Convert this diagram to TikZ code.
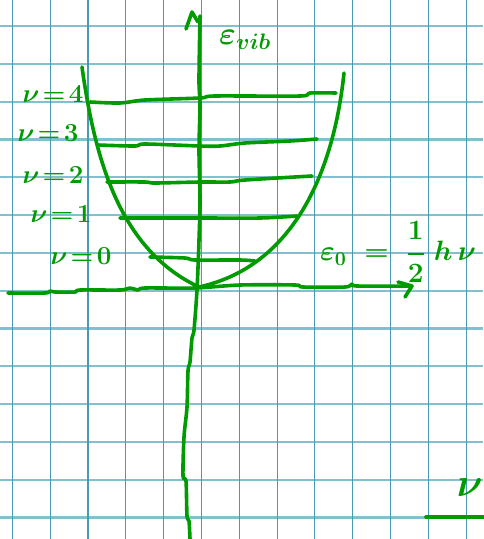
\documentclass[tikz,border=0pt]{standalone}
\usepackage{fix-cm}
\usepackage{amsmath}
\definecolor{gridv}{RGB}{70,155,178}
\definecolor{gridh}{RGB}{130,192,206}
\definecolor{pen}{RGB}{0,155,0}
\tikzset{
  vgrid/.style={draw=gridv,line width=1.1pt},
  hgrid/.style={draw=gridh,line width=2.2pt},
  ink/.style={draw=pen,line width=3.6pt,line cap=round,line join=round},
  lvl/.style={text=pen,font=\fontsize{26}{30}\selectfont\boldmath,inner sep=0pt},
}
\begin{document}
\begin{tikzpicture}[x=1pt,y=-1pt]
\useasboundingbox (0,0) rectangle (483,539);
\fill[white] (0,0) rectangle (483,539);
% grid
\foreach \k in {0,...,13} \draw[hgrid] (0,{26+37.8*\k}) -- (483,{26+37.8*\k});
\foreach \k in {0,...,12} \draw[vgrid] ({12.3+37.83*\k},0) -- ({12.3+37.83*\k},539);
% horizontal axis
\draw[ink] plot[smooth] coordinates {(8,293) (45,293) (50,291) (55,292) (75,292) (80,290) (120,290) (130,288) (138,290) (145,288) (195,288) (240,285) (295,285) (303,287) (345,287) (352,284) (357,286) (410,286)};
\coordinate (xtip) at (412,286);
\draw[ink] (398,282) -- (xtip) -- (405,297);
% vertical axis
\draw[ink] plot[smooth] coordinates {(190,539) (189,521) (187,516) (186,481) (183,476) (184,437) (187,407) (188,371) (190,362) (192,338) (194,330) (197,290) (199,240) (200,200) (199,150) (200,105) (199,80) (200,16)};
\coordinate (ytip) at (192,12);
\draw[ink] (186,29) -- (ytip) -- (198,22);
% potential curve
\coordinate (ptop) at (82,67);
\coordinate (pmin) at (199,287);
\coordinate (qtop) at (344,73);
\draw[ink] (ptop) .. controls (95,160) and (120,250) .. (pmin)
           .. controls (300,265) and (335,160) .. (qtop);
% energy levels
\draw[ink] plot[smooth] coordinates {(90,102) (120,103) (145,100) (200,98) (215,96) (300,96) (310,93) (336,93)};
\draw[ink] plot[smooth] coordinates {(98,145) (135,146) (145,144) (200,146) (220,146) (245,143) (290,141) (317,139)};
\draw[ink] plot[smooth] coordinates {(107,182) (145,182) (155,183) (200,182) (230,182) (245,180) (312,176)};
\draw[ink] plot[smooth] coordinates {(120,218) (200,218) (260,218) (297,216)};
\draw[ink] plot[smooth] coordinates {(150,257) (185,258) (195,260) (240,260) (255,261)};
% labels
\node[lvl] (l4) at (53,94) {$\nu\!=\!4$};
\node[lvl] (l3) at (48,133) {$\nu\!=\!3$};
\node[lvl] (l2) at (53,175) {$\nu\!=\!2$};
\node[lvl] (l1) at (61,214) {$\nu\!=\!1$};
\node[lvl] (l0) at (81,256) {$\nu\!=\!0$};
\node[lvl,font=\fontsize{32}{36}\selectfont\boldmath] (evib) at (245,40) {$\varepsilon_{vib}$};
\node[lvl,font=\fontsize{28}{32}\selectfont\boldmath] (e0) at (398,252) {$\varepsilon_0\;=\;\genfrac{}{}{2pt}{0}{1}{2}\;h\,\nu$};
% bottom right fragment
\node[lvl,anchor=east,font=\fontsize{40}{44}\selectfont\boldmath] (nu) at (483,488) {$\nu$};
\coordinate (bl) at (426,517);
\coordinate (br) at (490,517);
\draw[ink] (bl) -- (br);
\end{tikzpicture}
\end{document}
